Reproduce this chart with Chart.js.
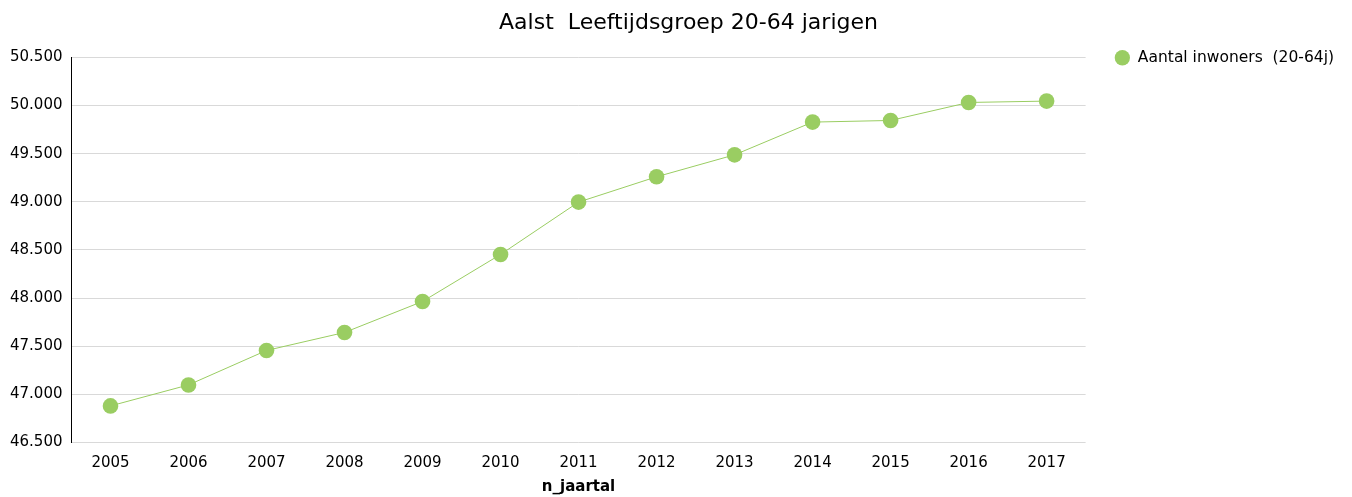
<!DOCTYPE html>
<html>
<head>
<meta charset="utf-8">
<script src="https://cdn.jsdelivr.net/npm/chart.js@4"></script>
<style>
  html, body { margin: 0; padding: 0; background: #fff; }
  #wrap { width: 1352px; height: 497px; position: relative; }
</style>
</head>
<body>
<div id="wrap"><canvas id="c"></canvas></div>
<script>
const years = ['2005','2006','2007','2008','2009','2010','2011','2012','2013','2014','2015','2016','2017'];
const inwoners = [46880, 47098, 47456, 47643, 47965, 48453, 48997, 49260, 49488, 49828, 49845, 50032, 50046];
const seriesLabel = 'Aantal inwoners  (20-64j)';
const chartTitle = 'Aalst  Leeftijdsgroep 20-64 jarigen';
const xAxisTitle = 'n_jaartal';
const yMin = 46500, yMax = 50500, yStep = 500;

function fmt(v) {
  return String(Math.round(v)).replace(/\B(?=(\d{3})+(?!\d))/g, '.');
}

const green = '#9ACD62';
const FONT = "'DejaVu Sans', sans-serif";

// nudge the title block so its centre matches the reference layout
const titleShift = {
  id: 'titleShift',
  afterLayout(chart) {
    if (chart.titleBlock) { chart.titleBlock.left += 32; }
  }
};

new Chart(document.getElementById('c'), {
  type: 'line',
  plugins: [titleShift],
  data: {
    labels: years,
    datasets: [{
      label: seriesLabel,
      data: inwoners,
      borderColor: green,
      backgroundColor: green,
      borderWidth: 1,
      pointRadius: 7.8,
      pointHoverRadius: 7.8,
      pointBorderWidth: 0,
      pointBackgroundColor: green,
      tension: 0
    }]
  },
  options: {
    responsive: true,
    maintainAspectRatio: false,
    animation: false,
    layout: { padding: { left: 1, right: 8, top: 0, bottom: 0 } },
    plugins: {
      title: {
        display: true,
        text: chartTitle,
        color: '#000',
        font: { family: FONT, size: 22, weight: 'normal' },
        padding: { top: 10, bottom: 21 }
      },
      legend: {
        position: 'right',
        align: 'start',
        title: { display: true, text: ' ', font: { family: FONT, size: 15 }, padding: { top: 3, bottom: 0 } },
        labels: {
          usePointStyle: true,
          pointStyle: 'circle',
          boxWidth: 15.5,
          boxHeight: 10.8,
          color: '#000',
          font: { family: FONT, size: 15.5 },
          padding: 29
        }
      },
      tooltip: { enabled: false }
    },
    scales: {
      x: {
        offset: true,
        grid: { display: false, drawTicks: false },
        border: { display: false },
        ticks: { color: '#000', font: { family: FONT, size: 15 }, padding: 12 },
        title: {
          display: true,
          text: xAxisTitle,
          color: '#000',
          font: { family: FONT, size: 15, weight: 'bold', lineHeight: 1.1 },
          padding: { top: -6, bottom: 2 }
        }
      },
      y: {
        min: yMin,
        max: yMax,
        grid: { color: '#d9d9d9', lineWidth: 1, drawTicks: false },
        border: { display: true, color: '#000', width: 1 },
        ticks: {
          stepSize: yStep,
          color: '#000',
          font: { family: FONT, size: 15 },
          padding: 9,
          callback: (v) => fmt(v)
        }
      }
    }
  }
});
</script>
</body>
</html>
